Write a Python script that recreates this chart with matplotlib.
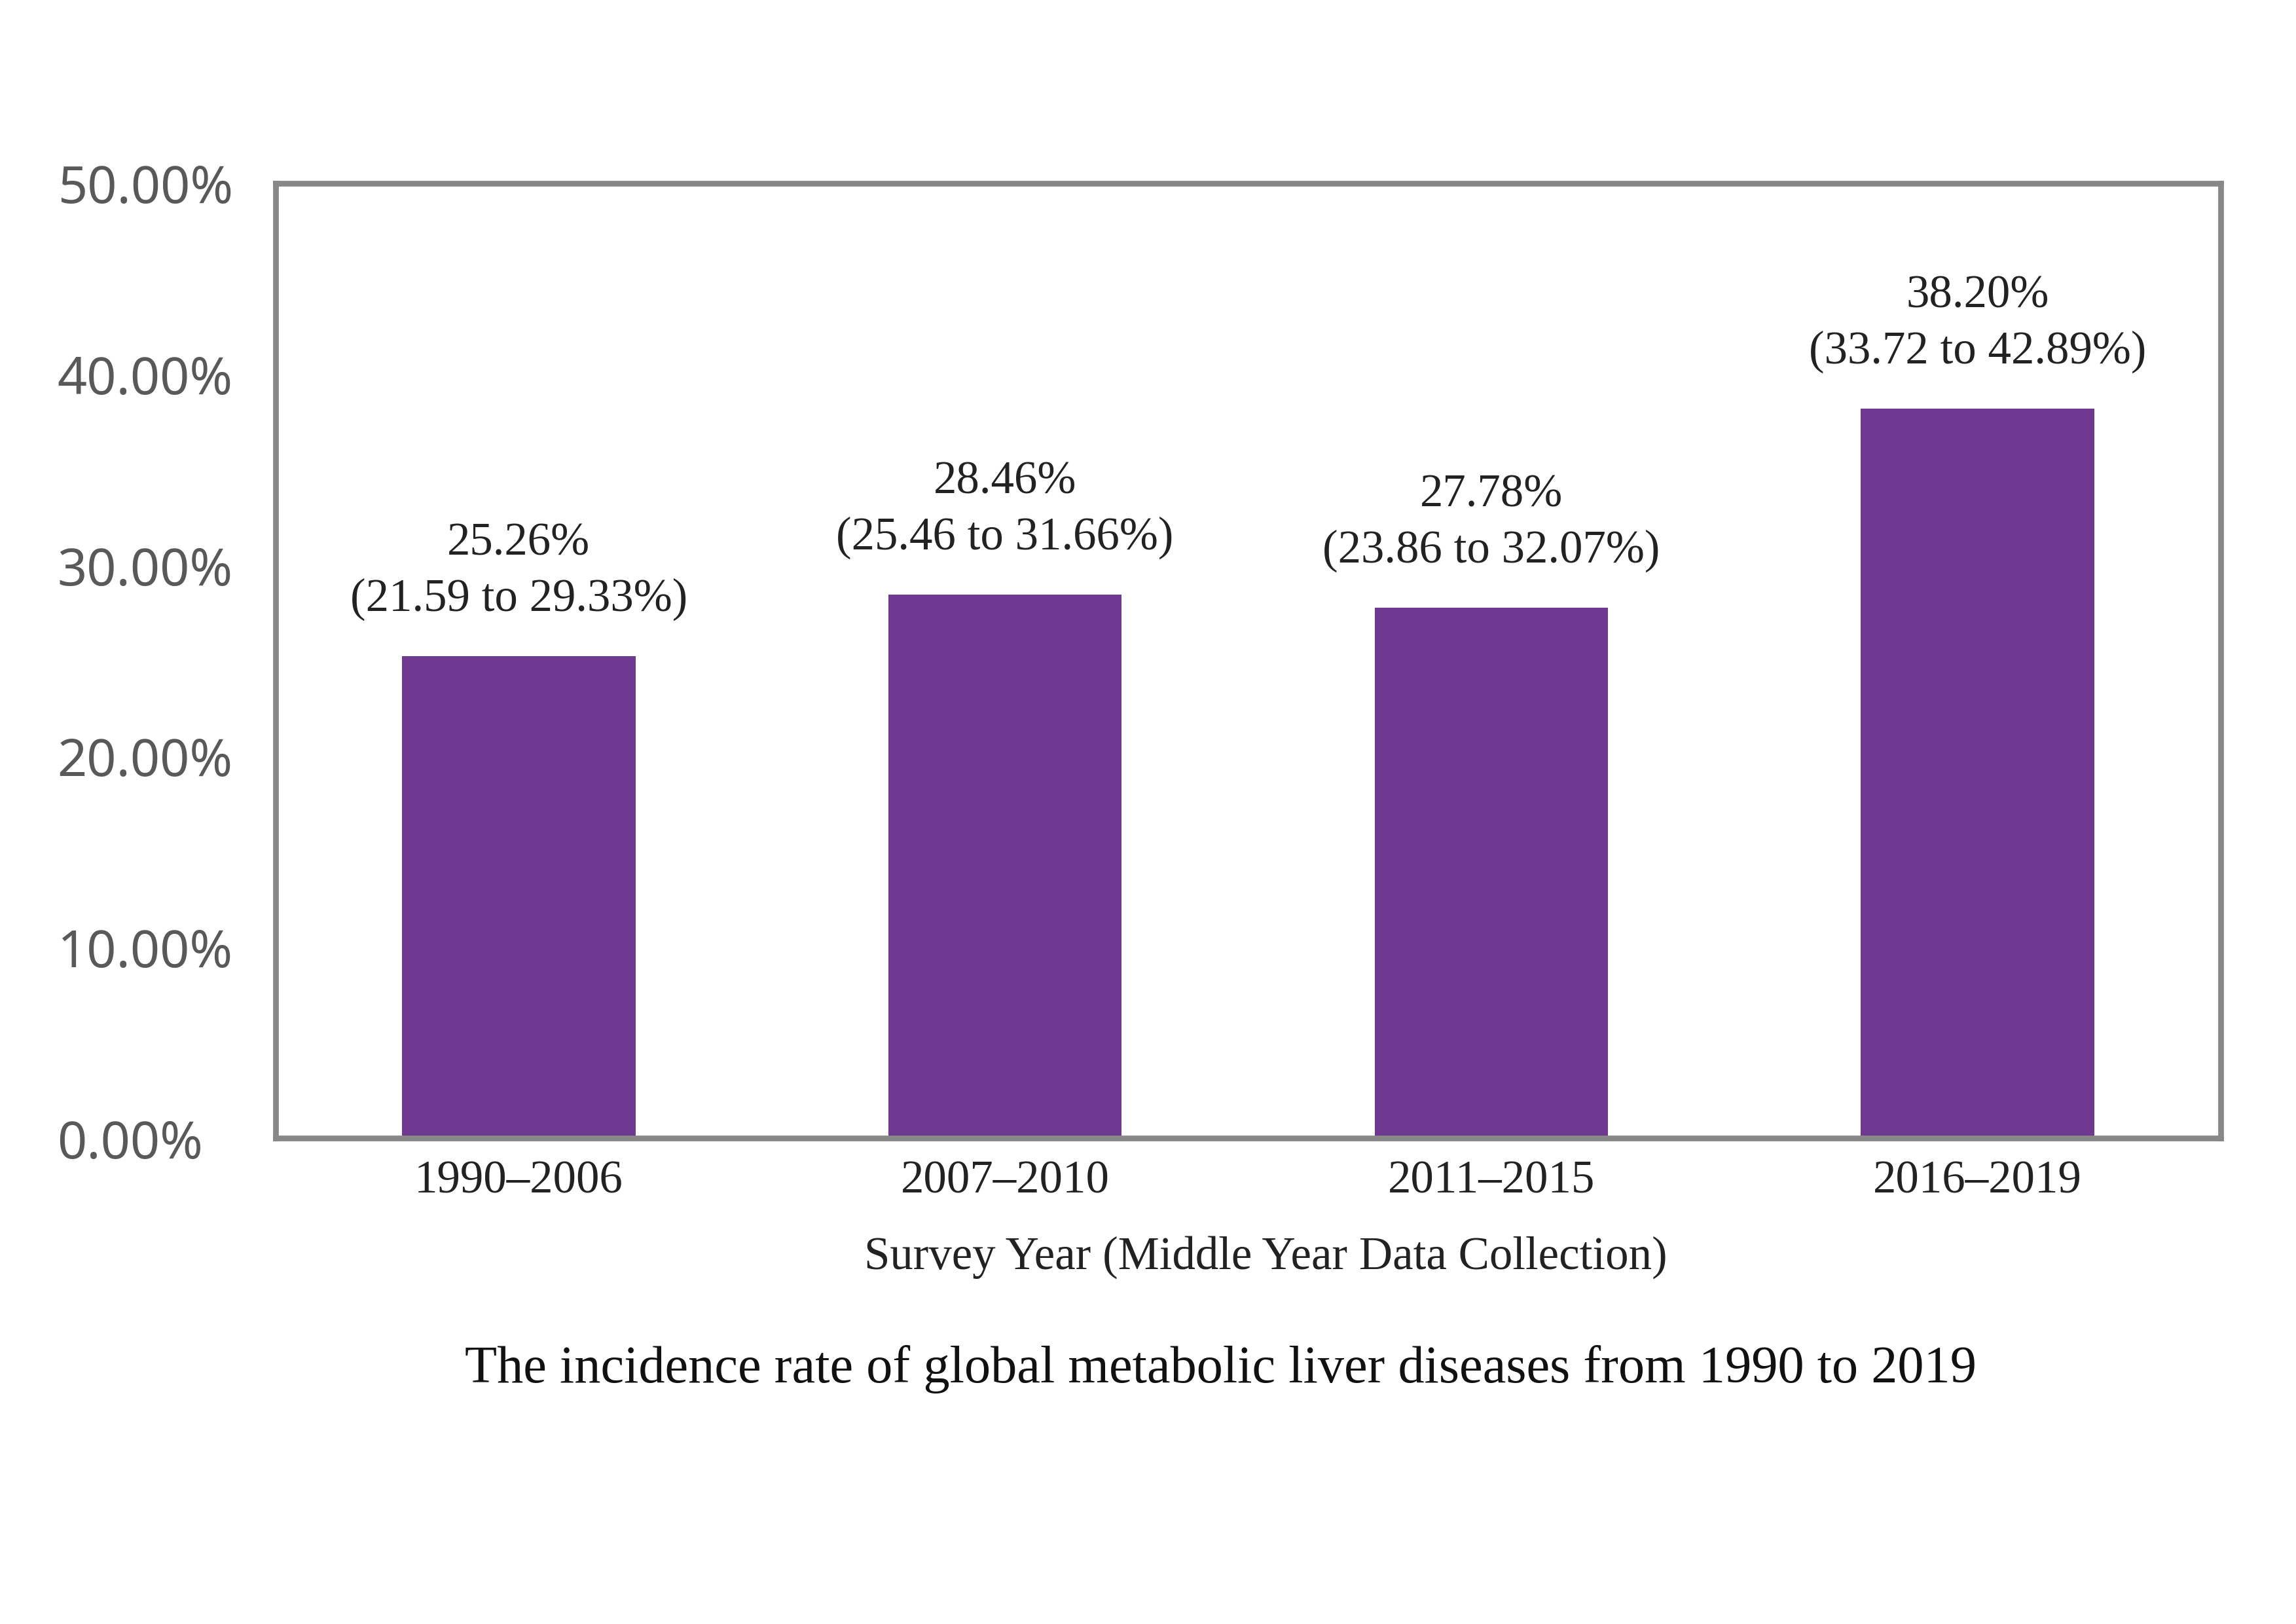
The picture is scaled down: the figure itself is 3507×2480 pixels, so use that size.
import matplotlib.pyplot as plt
from matplotlib.ticker import FuncFormatter

periods = ["1990\u20132006", "2007\u20132010", "2011\u20132015", "2016\u20132019"]
rates = [25.26, 28.46, 27.78, 38.20]
ci_low = [21.59, 25.46, 23.86, 33.72]
ci_high = [29.33, 31.66, 32.07, 42.89]
yticks = [0, 10, 20, 30, 40, 50]

bar_color = "#6F3991"
frame_color = "#888888"
serif = "Liberation Serif"

fig = plt.figure(figsize=(11.693, 8.267), dpi=300)
ax = fig.add_axes([0.120, 0.299, 0.847, 0.588])

x = range(len(periods))
bars = ax.bar(x, rates, width=0.48, color=bar_color, zorder=2)

ax.set_xlim(-0.5, 3.5)
ax.set_ylim(0, 50)
ax.set_yticks(yticks)
ax.yaxis.set_major_formatter(FuncFormatter(lambda v, p: f"{v:.2f}%"))
ax.set_xticks(list(x))
ax.set_xticklabels(periods, fontfamily=serif, fontsize=17, color="#222222")

for lab in ax.get_yticklabels():
    lab.set_fontfamily("Noto Sans")
    lab.set_fontsize(19)
    lab.set_color("#595959")
    lab.set_horizontalalignment("left")

ax.tick_params(axis="y", length=0, pad=80)
ax.tick_params(axis="x", length=0, pad=8)

for s in ax.spines.values():
    s.set_color(frame_color)
    s.set_linewidth(2.1)

for b, r, lo, hi in zip(bars, rates, ci_low, ci_high):
    ax.annotate(f"{r:.2f}%\n({lo:.2f} to {hi:.2f}%)",
                xy=(b.get_x() + b.get_width() / 2, b.get_height()),
                xytext=(0, 13), textcoords="offset points",
                ha="center", va="bottom", fontfamily=serif, fontsize=17,
                color="#222222", linespacing=1.4)

ax.set_xlabel("Survey Year (Middle Year Data Collection)", fontfamily=serif,
              fontsize=17, color="#222222", labelpad=12)
ax.xaxis.label.set_x(0.509)

fig.text(0.5315, 0.157, "The incidence rate of global metabolic liver diseases from 1990 to 2019",
         ha="center", va="center", fontfamily=serif, fontsize=19.3, color="#111111")

fig.savefig("out.png", dpi=300, facecolor="white")
